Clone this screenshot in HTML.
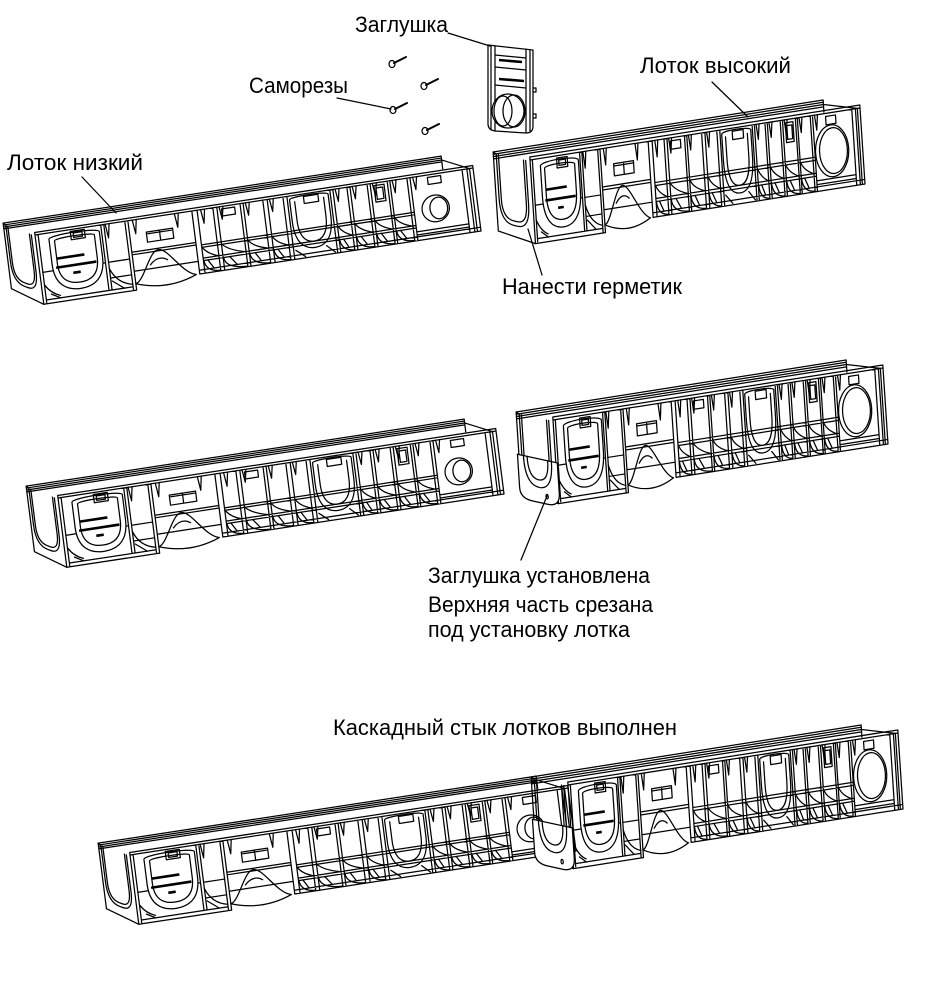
<!DOCTYPE html>
<html><head><meta charset="utf-8">
<style>
html,body{margin:0;padding:0;background:#fff;}
svg{display:block;}
text{font-family:"Liberation Sans","DejaVu Sans",sans-serif;font-size:22px;fill:#000;}
.s{fill:none;stroke:#000;stroke-width:1.25;stroke-linejoin:round;stroke-linecap:round;vector-effect:non-scaling-stroke;}
.t{fill:none;stroke:#000;stroke-width:2.6;vector-effect:non-scaling-stroke;}
.w{fill:#fff;stroke:#000;stroke-width:1.25;vector-effect:non-scaling-stroke;}
</style></head><body>
<svg width="936" height="1006" viewBox="0 0 936 1006" xmlns="http://www.w3.org/2000/svg">
<defs>
<g id="body">
<path class="s" vector-effect="non-scaling-stroke" d="M0,-4H1000M0,0H1000M0,-4V110M7,0V108M0,110H212M7,104H205M150,0V104M157,0V104M205,0V110M212,0V110M212,80H358M212,50H358M212,54H358M358,0V100M358,100H1000M358,94H1000M1000,-4V100M992,0V100M370,55H856M370,59H856M370,76H856M370,80H856M370,0V100M406,0V100M415,0V100M468,0V100M475,0V100M520,0V100M530,0V100M566,0V100M575,0V100M673,0V100M680,0V100M712,0V100M719,0V100M758,0V100M765,0V100M804,0V100M810,0V100M849,0V100M856,0V100M975,0V100M986,0V100M856,86H975M856,91H975M250,22H310V38H250ZM280,22V38M253,25H307"/>
<path class="s" vector-effect="non-scaling-stroke" d="M160,0L164,22L169,0M222,0L226,22L231,0M318,0L322,22L327,0M378,0L382,22L387,0M420,0L424,20L429,0M480,0L484,20L489,0M535,0L539,20L544,0M685,0L689,20L694,0M724,0L728,20L733,0M770,0L774,20L779,0M815,0L819,20L824,0M862,0L866,20L871,0"/>
<path class="s" vector-effect="non-scaling-stroke" d="M80,3H112V16H80ZM86,6H106V13H86ZM425,4H455V15H425ZM612,4H645V15H612ZM773,4H796V30H773ZM777,8H792V26H777ZM895,4H925V15H895Z"/>
<path class="s" vector-effect="non-scaling-stroke" d="M30,10V50C30,82 55,94 88,94C121,94 145,82 145,50V10M42,14V50C42,74 60,84 88,84C116,84 133,74 133,50V14M30,10C30,3 145,3 145,10M42,14C42,9 133,9 133,14"/>
<path class="s" vector-effect="non-scaling-stroke" d="M580,6V40C580,75 600,86 624,86C648,86 668,75 668,40V6M591,10V40C591,66 605,76 624,76C643,76 657,66 657,40V10M580,6C580,1 668,1 668,6"/>
<path class="s" vector-effect="non-scaling-stroke" d="M212,100C232,98 250,52 272,52C294,52 318,94 350,100M212,100Q282,118 350,100M250,74Q270,60 290,70"/>
<path class="s" vector-effect="non-scaling-stroke" d="M371,80Q373,98 405,99M416,80Q418,98 467,99M476,80Q478,98 519,99M531,80Q533,98 565,99M681,80Q683,98 711,99M720,80Q722,98 757,99M766,80Q768,98 803,99M811,80Q813,98 848,99M371,59Q380,70 405,76M416,59Q430,70 467,76M476,59Q485,70 519,76M531,59Q540,70 565,76M681,59Q690,70 711,76M720,59Q730,70 757,76M766,59Q775,70 803,76M811,59Q820,70 848,76"/>
<path class="s" vector-effect="non-scaling-stroke" d="M380,80L392,94M430,80L445,94M488,80L500,94M540,80L552,94M690,80L700,94M730,80L742,94M776,80L788,94M820,80L832,94M580,86L600,98M650,86L668,98M20,96L40,104M160,90L185,104"/>
<path class="s" vector-effect="non-scaling-stroke" d="M7,60H30M145,60H150M157,60H205M157,85H205M157,70Q170,95 205,100M7,80Q20,95 40,100"/>
<path class="t" vector-effect="non-scaling-stroke" d="M42,42H105M38,56H130M75,68H92"/>
</g>
<g id="low">
<use href="#body"/>
<ellipse class="s" vector-effect="non-scaling-stroke" cx="905" cy="54" rx="31" ry="21"/>
<ellipse class="s" vector-effect="non-scaling-stroke" cx="912" cy="54" rx="20" ry="17"/>
<path class="s" vector-effect="non-scaling-stroke" d="M-68,-26H932M-68,-23H932M-68,-20H932M-68,-17H932M932,-26V-6M932,-20L992,0"/>
<g transform="matrix(-0.68,-0.26,0,1,0,0)">
<path class="s" vector-effect="non-scaling-stroke" d="M100,0V104L0,110M92,2V60Q92,92 55,92H45Q12,92 12,60V2M86,2V60Q86,86 55,86H45Q18,86 18,60V2M100,0L92,2"/>
</g>
</g>
<g id="high">
<use href="#body"/>
<ellipse class="s" vector-effect="non-scaling-stroke" cx="908" cy="50" rx="50" ry="34"/>
<ellipse class="s" vector-effect="non-scaling-stroke" cx="912" cy="50" rx="42" ry="30"/>
<path class="s" vector-effect="non-scaling-stroke" d="M-109,-18H891M-109,-15H891M-109,-12H891M-109,-9H891M891,-18V-2M891,-12L992,0"/>
<g transform="matrix(-1.09,-0.18,0,1,0,0)">
<path class="s" vector-effect="non-scaling-stroke" d="M100,0V104L0,110M92,2V60Q92,92 55,92H45Q12,92 12,60V2M86,2V60Q86,86 55,86H45Q18,86 18,60V2M100,0L92,2"/>
</g>
</g>
<g id="cap">
<g transform="matrix(-1.09,-0.18,0,1,0,0)">
<path class="w" vector-effect="non-scaling-stroke" d="M104,56V100Q104,114 70,114H30Q-4,114 -4,96V56Z"/>
<path class="s" vector-effect="non-scaling-stroke" d="M88,56Q88,94 50,94Q12,94 12,56M78,56Q78,84 50,84Q22,84 22,56"/>
<ellipse class="s" vector-effect="non-scaling-stroke" cx="30" cy="104" rx="3" ry="3"/>
</g>
</g>
</defs>

<!-- Row 1 -->
<g transform="matrix(0.438,-0.067,0.08,0.63,35,235)"><use href="#low"/></g>
<g transform="matrix(0.33,-0.052,0.05,0.76,530,160)"><use href="#high"/></g>

<!-- Plug (Заглушка) -->
<path class="w" d="M488,45L533,50L533,126Q533,133 526,133L495,131Q488,130 488,124Z"/>
<path class="s" d="M491,46V130M495,46V131M526,49V132M530,50V131M495,55L526,58M495,67L526,70M495,85L526,88M533,88h3v4h-3M533,114h3v4h-3"/>
<path class="t" d="M499,60L522,62M499,79L524,81"/>
<ellipse class="w" cx="508" cy="111" rx="16" ry="17"/>
<ellipse class="s" cx="514" cy="111" rx="11" ry="16"/>
<ellipse class="s" cx="503" cy="111" rx="9" ry="15"/>

<!-- Screws -->
<g class="s">
<ellipse cx="392" cy="64" rx="3" ry="3.5"/><path d="M394,63L406,57" style="stroke-width:2"/>
<ellipse cx="424" cy="86" rx="3" ry="3.5"/><path d="M426,85L438,79" style="stroke-width:2"/>
<ellipse cx="393" cy="110" rx="3" ry="3.5"/><path d="M395,109L407,103" style="stroke-width:2"/>
<ellipse cx="425" cy="131" rx="3" ry="3.5"/><path d="M427,130L439,124" style="stroke-width:2"/>
</g>

<!-- Row 2 -->
<g transform="matrix(0.438,-0.067,0.08,0.63,58,498)"><use href="#low"/></g>
<g transform="matrix(0.33,-0.052,0.05,0.76,553,420)"><use href="#high"/><use href="#cap"/></g>

<!-- Row 3 -->
<g transform="matrix(0.438,-0.067,0.08,0.63,130,855)"><use href="#low"/></g>
<g transform="matrix(0.33,-0.052,0.05,0.76,568,785)"><use href="#high"/><use href="#cap"/></g>

<!-- Leaders -->
<path class="s" d="M448,33L490,46M337,98L391,109M82,177L116,213M712,82L748,117M528,229L542,275M547,496L521,560"/>

<!-- Labels -->
<text x="355" y="32" textLength="93" lengthAdjust="spacingAndGlyphs">Заглушка</text>
<text x="249" y="93" textLength="99" lengthAdjust="spacingAndGlyphs">Саморезы</text>
<text x="7" y="170" textLength="136" lengthAdjust="spacingAndGlyphs">Лоток низкий</text>
<text x="640" y="73" textLength="151" lengthAdjust="spacingAndGlyphs">Лоток высокий</text>
<text x="502" y="294" textLength="180" lengthAdjust="spacingAndGlyphs">Нанести герметик</text>
<text x="428" y="583" textLength="222" lengthAdjust="spacingAndGlyphs">Заглушка установлена</text>
<text x="428" y="612" textLength="225" lengthAdjust="spacingAndGlyphs">Верхняя часть срезана</text>
<text x="428" y="637" textLength="202" lengthAdjust="spacingAndGlyphs">под установку лотка</text>
<text x="333" y="735" textLength="344" lengthAdjust="spacingAndGlyphs">Каскадный стык лотков выполнен</text>
</svg>
</body></html>
